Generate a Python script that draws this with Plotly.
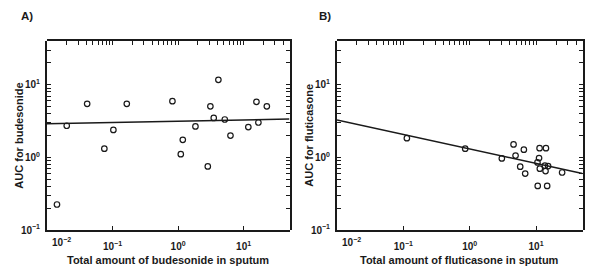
import plotly.graph_objects as go

# ---- data ----
bud_sputum = [0.0142, 0.020, 0.041, 0.075, 0.103, 0.165, 0.82, 1.10, 1.18, 1.84,
              2.84, 3.11, 3.5, 4.12, 5.16, 6.3, 11.8, 15.7, 16.8, 22.6]
bud_auc = [0.225, 2.73, 5.47, 1.32, 2.39, 5.47, 5.96, 1.11, 1.75, 2.67,
           0.753, 5.05, 3.5, 11.7, 3.33, 2.0, 2.62, 5.83, 3.03, 5.05]
bud_fit_x = [0.01, 50]
bud_fit_y = [2.9, 3.37]

flu_sputum = [0.113, 0.855, 3.05, 4.58, 4.91, 5.77, 6.55, 6.86, 10.6, 10.5,
              11.1, 11.3, 11.4, 14.1, 13.6, 13.9, 14.7, 15.2, 24.7]
flu_auc = [1.84, 1.32, 0.97, 1.51, 1.06, 0.746, 1.28, 0.60, 0.405, 0.855,
           0.98, 1.34, 0.70, 1.34, 0.77, 0.65, 0.405, 0.76, 0.62]
flu_fit_x = [0.01, 50]
flu_fit_y = [3.27, 0.60]

x_major = [0.1, 1, 10]
x_major_text = ["<b>10<sup>−1</sup></b>", "<b>10<sup>0</sup></b>", "<b>10<sup>1</sup></b>"]
y_major = [0.1, 1, 10]
y_major_text = ["<b>10<sup>−1</sup></b>", "<b>10<sup>0</sup></b>", "<b>10<sup>1</sup></b>"]

W, H = 600, 277
FONT = "Liberation Sans"
DARK = "#1a1a1a"


def decade_ticks(lo, hi):
    vals = []
    for k in range(lo, hi + 1):
        for m in range(1, 10):
            vals.append(m * 10 ** k)
    return vals


x_all = [v for v in decade_ticks(-2, 1) if v <= 50]
y_all = [v for v in decade_ticks(-1, 1) if v <= 40]
y_minor = [v for v in y_all if v not in y_major]

fig = go.Figure()

marker = dict(symbol="circle-open", size=5.5, color=DARK, line=dict(width=1.2, color=DARK))

fig.add_trace(go.Scatter(x=bud_sputum, y=bud_auc, mode="markers", marker=marker,
                         xaxis="x", yaxis="y", showlegend=False))
fig.add_trace(go.Scatter(x=bud_fit_x, y=bud_fit_y, mode="lines",
                         line=dict(color=DARK, width=1.5),
                         xaxis="x", yaxis="y", showlegend=False))
fig.add_trace(go.Scatter(x=flu_sputum, y=flu_auc, mode="markers", marker=marker,
                         xaxis="x2", yaxis="y2", showlegend=False))
fig.add_trace(go.Scatter(x=flu_fit_x, y=flu_fit_y, mode="lines",
                         line=dict(color=DARK, width=1.5),
                         xaxis="x2", yaxis="y2", showlegend=False))
# invisible traces so that the mirrored frame axes are drawn
for xa, ya in [("x3", "y3"), ("x4", "y4")]:
    fig.add_trace(go.Scatter(x=[1], y=[1], mode="markers", marker=dict(opacity=0),
                             xaxis=xa, yaxis=ya, showlegend=False, hoverinfo="skip"))

xdomA = [47 / W, 289.5 / W]
xdomB = [337 / W, 582.5 / W]
ydom = [1 - 234.3 / H, 1 - 42 / H]
xr = [-2, 1.7]
yr = [-1, 1.6]

tickfont = dict(family=FONT, size=10, color=DARK)
common = dict(type="log", showgrid=False, zeroline=False, showline=True,
              linewidth=2, linecolor=DARK, ticks="inside", ticklen=4,
              tickwidth=1, tickcolor=DARK, tickfont=tickfont, tickmode="array")
minor_y = dict(tickvals=y_minor, ticks="inside", ticklen=4, tickwidth=1,
               tickcolor=DARK, showgrid=False)

layout = dict(
    width=W, height=H, margin=dict(l=0, r=0, t=0, b=0),
    paper_bgcolor="white", plot_bgcolor="rgba(0,0,0,0)", showlegend=False,
    xaxis=dict(common, domain=xdomA, range=xr, anchor="y",
               tickvals=x_major, ticktext=x_major_text, ticklabelstandoff=6),
    yaxis=dict(common, domain=ydom, range=yr, anchor="x",
               tickvals=y_major, ticktext=y_major_text, minor=minor_y,
               ticklabelstandoff=3),
    xaxis2=dict(common, domain=xdomB, range=xr, anchor="y2",
                tickvals=x_major, ticktext=x_major_text, ticklabelstandoff=6),
    yaxis2=dict(common, domain=ydom, range=yr, anchor="x2",
                tickvals=y_major, ticktext=y_major_text, minor=minor_y,
                ticklabelstandoff=3),
    xaxis3=dict(common, domain=xdomA, range=xr, anchor="y3", side="top",
                tickvals=x_all, showticklabels=False),
    yaxis3=dict(common, domain=ydom, range=yr, anchor="x3", side="right",
                tickvals=y_all, showticklabels=False),
    xaxis4=dict(common, domain=xdomB, range=xr, anchor="y4", side="top",
                tickvals=x_all, showticklabels=False),
    yaxis4=dict(common, domain=ydom, range=yr, anchor="x4", side="right",
                tickvals=y_all, showticklabels=False),
)
fig.update_layout(**layout)

title_font = dict(family=FONT, size=11, color=DARK)
ann = []
ann.append(dict(text="<b>A)</b>", x=19 / W, y=1 - 16 / H, xref="paper", yref="paper",
                xanchor="left", yanchor="middle", showarrow=False,
                font=dict(family=FONT, size=11.5, color=DARK)))
ann.append(dict(text="<b>B)</b>", x=317 / W, y=1 - 16 / H, xref="paper", yref="paper",
                xanchor="left", yanchor="middle", showarrow=False,
                font=dict(family=FONT, size=11.5, color=DARK)))
ann.append(dict(text="<b>Total amount of budesonide in sputum</b>",
                x=sum(xdomA) / 2, y=1 - 265 / H, xref="paper", yref="paper",
                xanchor="center", yanchor="middle", showarrow=False, font=title_font))
ann.append(dict(text="<b>Total amount of fluticasone in sputum</b>",
                x=sum(xdomB) / 2, y=1 - 265 / H, xref="paper", yref="paper",
                xanchor="center", yanchor="middle", showarrow=False, font=title_font))
ann.append(dict(text="<b>AUC for budesonide</b>", textangle=-90,
                x=19 / W, y=sum(ydom) / 2, xref="paper", yref="paper",
                xanchor="center", yanchor="middle", showarrow=False, font=title_font))
ann.append(dict(text="<b>AUC for fluticasone</b>", textangle=-90,
                x=309 / W, y=sum(ydom) / 2, xref="paper", yref="paper",
                xanchor="center", yanchor="middle", showarrow=False, font=title_font))
for xref_ in ["x", "x2"]:
    ann.append(dict(text="<b>10<sup>−2</sup></b>", x=-2, y=1 - 246 / H, xref=xref_,
                    yref="paper", xanchor="center", yanchor="middle", xshift=14,
                    showarrow=False, font=tickfont))
fig.update_layout(annotations=ann)

fig.write_html("out.html", config={"displayModeBar": False},
               post_script="document.body.style.margin='0';document.body.style.overflow='hidden';")
